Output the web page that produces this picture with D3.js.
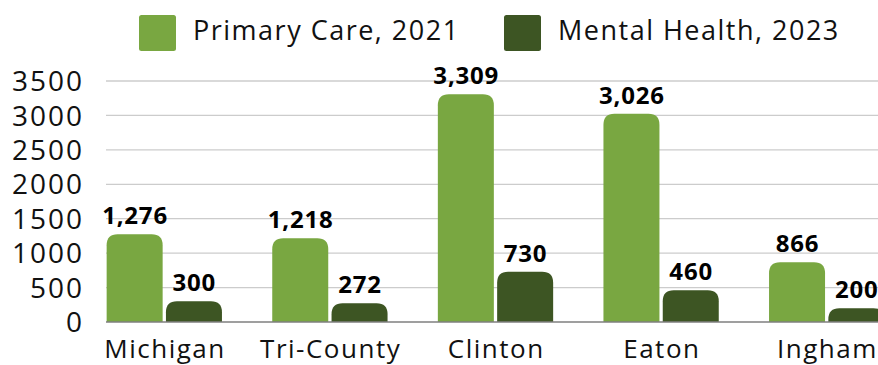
<!DOCTYPE html>
<html>
<head>
<meta charset="utf-8">
<script src="https://cdn.jsdelivr.net/npm/d3@7"></script>
<style>
  html, body { margin: 0; padding: 0; background: #fff; overflow: hidden; }
  svg { display: block; font-family: "Open Sans", sans-serif; }
</style>
</head>
<body>
<svg id="chart" width="878" height="365"></svg>
<script>
// Provider counts by region
const categories = ["Michigan", "Tri-County", "Clinton", "Eaton", "Ingham"];
const seriesNames = ["Primary Care, 2021", "Mental Health, 2023"];
const primaryCare2021 = [1276, 1218, 3309, 3026, 866];
const mentalHealth2023 = [300, 272, 730, 460, 200];
const yTicks = [0, 500, 1000, 1500, 2000, 2500, 3000, 3500];
const colors = ["#79a741", "#3d5523"];

const svg = d3.select("#chart");
const W = 878, H = 365;

const y = d3.scaleLinear().domain([0, 3500]).range([322, 81]);
const x0 = d3.scaleBand().domain(categories).range([81.5, 909.5]).padding(0);
const x1 = d3.scaleBand().domain(seriesNames).range([0, x0.bandwidth()])
  .paddingInner(0.0557).paddingOuter(0.424);

const gridLeft = 106, gridRight = W;

// gridlines
svg.append("g").selectAll("line").data(yTicks.filter(d => d > 0)).join("line")
  .attr("x1", gridLeft).attr("x2", gridRight)
  .attr("y1", d => y(d)).attr("y2", d => y(d))
  .attr("stroke", "#cccccc").attr("stroke-width", 1.3);

// y tick labels
svg.append("g").selectAll("text").data(yTicks).join("text")
  .attr("x", 84).attr("y", d => y(d))
  .attr("dy", "0.36em")
  .attr("text-anchor", "end")
  .attr("font-size", 28)
  .attr("letter-spacing", 2)
  .attr("fill", "#111")
  .text(d => d);

// bar with rounded top corners
function topRounded(x, yTop, w, h, r) {
  r = Math.min(r, h, w / 2);
  return `M${x},${yTop + h}V${yTop + r}Q${x},${yTop} ${x + r},${yTop}` +
         `H${x + w - r}Q${x + w},${yTop} ${x + w},${yTop + r}V${yTop + h}Z`;
}

const rows = categories.map((c, i) => ({
  category: c,
  values: [
    { key: seriesNames[0], value: primaryCare2021[i] },
    { key: seriesNames[1], value: mentalHealth2023[i] }
  ]
}));

const groups = svg.append("g").selectAll("g").data(rows).join("g")
  .attr("transform", d => `translate(${x0(d.category)},0)`);

groups.selectAll("path").data(d => d.values).join("path")
  .attr("d", d => topRounded(x1(d.key), y(d.value), x1.bandwidth(), y(0) - y(d.value), 11))
  .attr("fill", (d, i) => colors[i]);

groups.selectAll("text.val").data(d => d.values).join("text")
  .attr("class", "val")
  .attr("x", d => x1(d.key) + x1.bandwidth() / 2 + 0.4)
  .attr("y", d => y(d.value) - 10)
  .attr("text-anchor", "middle")
  .attr("font-size", 24)
  .attr("letter-spacing", 0.8)
  .attr("font-weight", "bold")
  .attr("fill", "#000")
  .text(d => d3.format(",")(d.value));

// baseline
svg.append("line")
  .attr("x1", gridLeft).attr("x2", gridRight)
  .attr("y1", y(0)).attr("y2", y(0))
  .attr("stroke", "#7f7f7f").attr("stroke-width", 1.3);

// category labels
svg.append("g").selectAll("text").data(categories).join("text")
  .attr("x", d => x0(d) + x1(seriesNames[0]) + x1.bandwidth() + x1.step() * 0.0557 / 2 + 0.75)
  .attr("y", 358)
  .attr("text-anchor", "middle")
  .attr("font-size", 26)
  .attr("letter-spacing", 1.5)
  .attr("fill", "#111")
  .text(d => d);

// legend
const legendX = [139, 504];
const legend = svg.append("g").selectAll("g").data(seriesNames).join("g")
  .attr("transform", (d, i) => `translate(${legendX[i]},15)`);
legend.append("rect")
  .attr("width", 37).attr("height", 36).attr("rx", 2.5)
  .attr("fill", (d, i) => colors[i]);
legend.append("text")
  .attr("x", 54).attr("y", 24.5)
  .attr("font-size", 27)
  .attr("letter-spacing", 1.5)
  .attr("fill", "#111")
  .text(d => d);
</script>
</body>
</html>
